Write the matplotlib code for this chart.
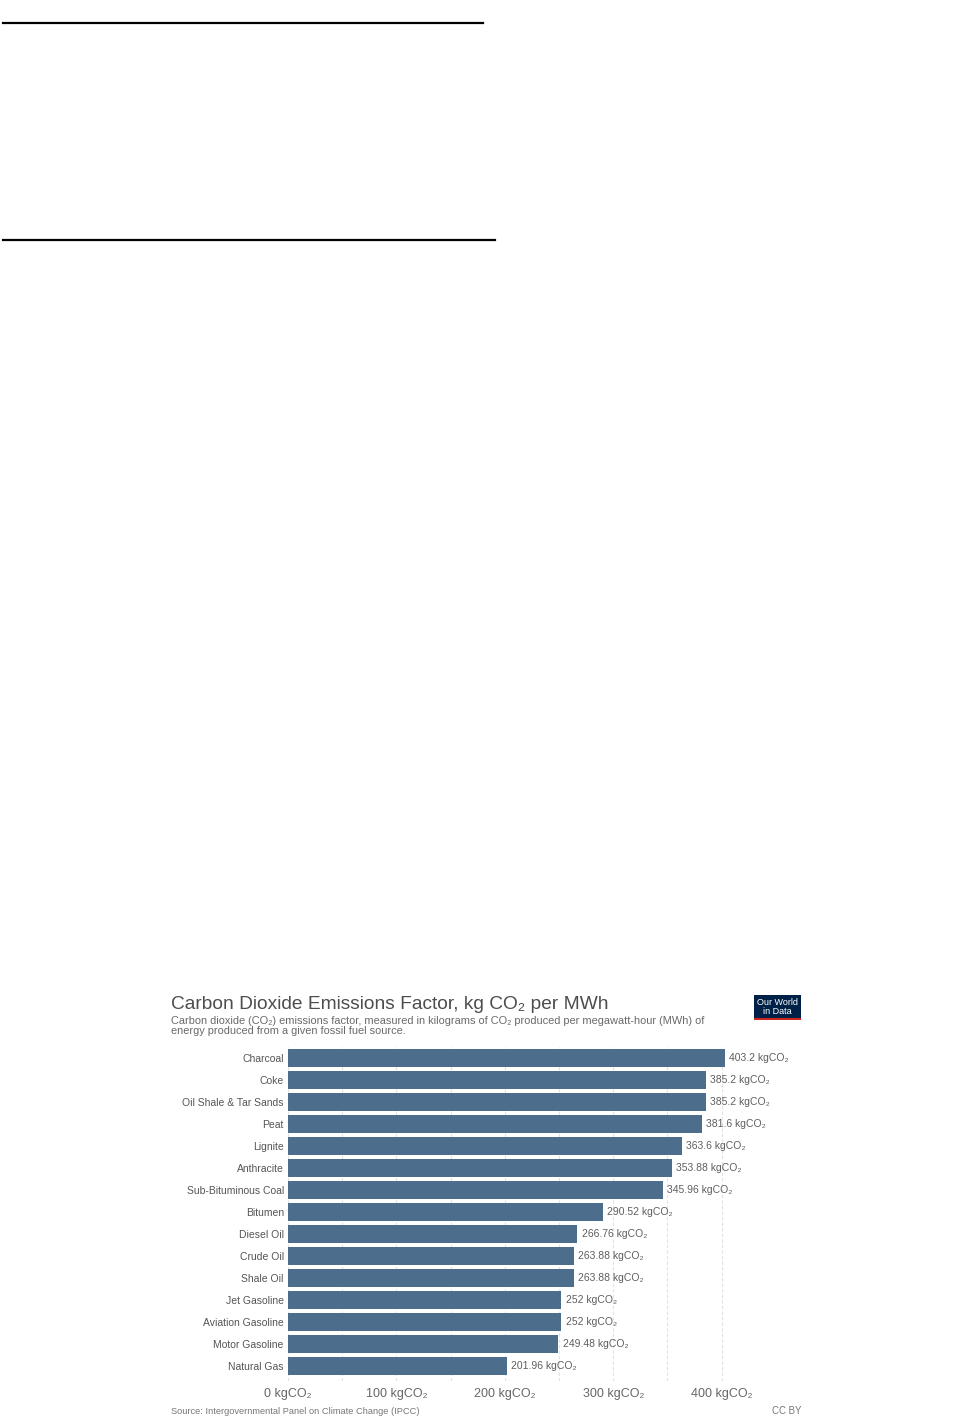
import matplotlib.pyplot as plt
from matplotlib.lines import Line2D
from matplotlib.patches import Rectangle

plt.rcParams['font.family'] = ['Liberation Sans', 'DejaVu Sans']

# datos
fuentes = ['Charcoal', 'Coke', 'Oil Shale & Tar Sands', 'Peat', 'Lignite',
           'Anthracite', 'Sub-Bituminous Coal', 'Bitumen', 'Diesel Oil',
           'Crude Oil', 'Shale Oil', 'Jet Gasoline', 'Aviation Gasoline',
           'Motor Gasoline', 'Natural Gas']
factores = [403.2, 385.2, 385.2, 381.6, 363.6, 353.88, 345.96, 290.52,
            266.76, 263.88, 263.88, 252, 252, 249.48, 201.96]
ticks_x = [0, 100, 200, 300, 400]
ticks_menores = [50, 150, 250, 350]

W, H = 970, 1428


def fx(px):
    return px / W


def fy(py):
    return 1 - py / H


fig = plt.figure(figsize=(W / 100, H / 100), dpi=100)

# lineas negras de arriba
fig.add_artist(Line2D([fx(3), fx(483)], [fy(23), fy(23)], color='black', lw=1.6))
fig.add_artist(Line2D([fx(3), fx(495)], [fy(240), fy(240)], color='black', lw=1.6))

# area del grafico
xmax = 440
izq, der = 288, 288 + xmax * 1.084
arriba, abajo = 1047, 1381
ax = fig.add_axes([fx(izq), fy(abajo), fx(der - izq), (abajo - arriba) / H])

y = list(range(len(fuentes)))
ax.barh(y, factores, height=0.8, color='#4d6d8c', zorder=2)
for yi, v in zip(y, factores):
    ax.text(v + 4, yi, f'{v:g} kgCO₂', va='center', ha='left',
            fontsize=7.5, color='#5e5e5e')

ax.set_xlim(0, xmax)
ax.set_ylim(14.68, -0.5)
ax.set_yticks(y)
ax.set_yticklabels(fuentes, fontsize=7.5, color='#555555')
ax.set_xticks(ticks_x)
ax.set_xticklabels([f'{t} kgCO₂' for t in ticks_x], fontsize=9, color='#666666')
ax.set_xticks(ticks_menores, minor=True)
ax.tick_params(axis='both', which='both', length=0)
ax.tick_params(axis='y', pad=3)
ax.tick_params(axis='x', pad=5)
ax.grid(True, axis='x', which='both', linestyle=(0, (3, 2)), color='#e2e2e2',
        lw=0.8, zorder=0)
ax.set_axisbelow(True)
for s in ax.spines.values():
    s.set_visible(False)

# titulos
fig.text(fx(171), fy(1009), 'Carbon Dioxide Emissions Factor, kg CO₂ per MWh',
         fontsize=13.8, color='#4d4d4d', va='baseline', ha='left')
fig.text(fx(171), fy(1023.5),
         'Carbon dioxide (CO₂) emissions factor, measured in kilograms of CO₂ '
         'produced per megawatt-hour (MWh) of',
         fontsize=7.95, color='#6a6a6a', va='baseline', ha='left')
fig.text(fx(171), fy(1034.5), 'energy produced from a given fossil fuel source.',
         fontsize=7.95, color='#6a6a6a', va='baseline', ha='left')

# logo
fig.add_artist(Rectangle((fx(754), fy(1020)), fx(47), 25 / H,
                         transform=fig.transFigure, color='#002147', lw=0))
fig.add_artist(Rectangle((fx(754), fy(1020)), fx(47), 2.5 / H,
                         transform=fig.transFigure, color='#ce261e', lw=0))
fig.text(fx(777.5), fy(1007), 'Our World\nin Data', fontsize=6.5, color='white',
         ha='center', va='center', linespacing=0.9)

# pie
fig.text(fx(171), fy(1414), 'Source: Intergovernmental Panel on Climate Change (IPCC)',
         fontsize=6.7, color='#777777', va='baseline', ha='left')
fig.text(fx(801), fy(1414), 'CC BY', fontsize=6.9, color='#777777',
         va='baseline', ha='right')

fig.savefig('out.png', dpi=100)
